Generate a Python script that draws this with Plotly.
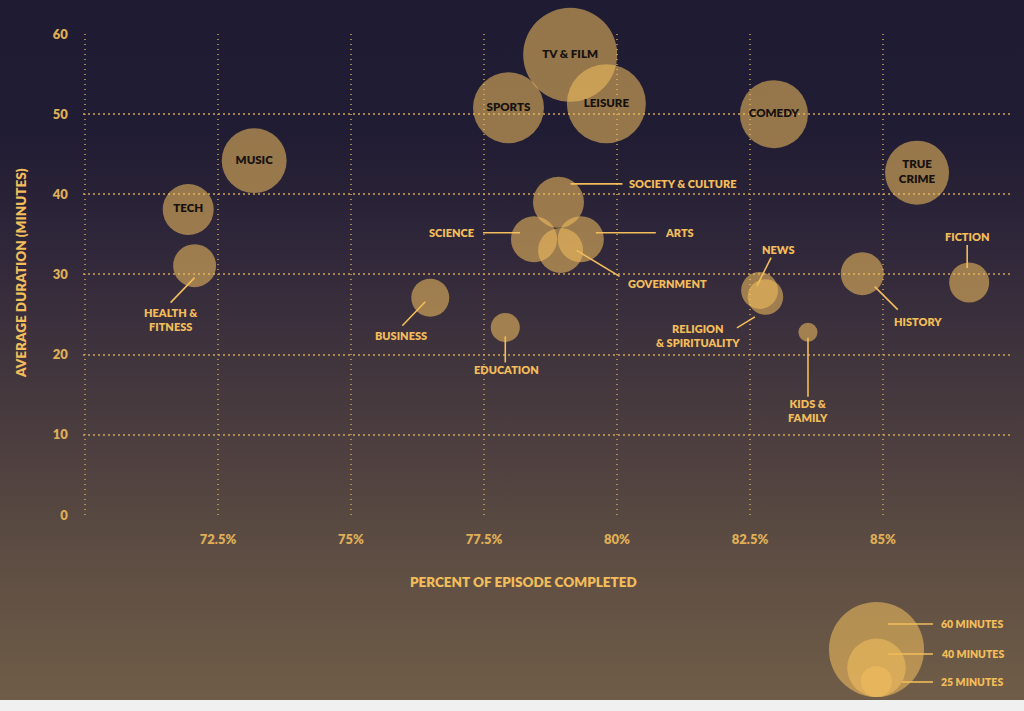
import base64
import plotly.graph_objects as go

# ---------------- data ----------------
categories = ["TV & FILM", "SPORTS", "LEISURE", "COMEDY", "TRUE CRIME", "MUSIC", "TECH",
              "HEALTH & FITNESS", "BUSINESS", "EDUCATION", "SOCIETY & CULTURE", "SCIENCE",
              "ARTS", "GOVERNMENT", "NEWS", "RELIGION & SPIRITUALITY", "KIDS & FAMILY",
              "HISTORY", "FICTION"]
pct_completed = [79.12, 77.96, 79.80, 82.95, 85.64, 73.18, 71.94,
                 72.06, 76.49, 77.90, 78.90, 78.44,
                 79.32, 78.94, 82.68, 82.79, 83.59,
                 84.61, 86.62]
avg_duration = [57.4, 50.8, 51.3, 50.0, 42.7, 44.2, 38.1,
                31.1, 27.1, 23.4, 39.0, 34.4,
                34.4, 33.0, 28.0, 27.2, 22.8,
                30.1, 29.0]
bubble_minutes = [59.4, 46.8, 51.2, 45.2, 43.0, 43.5, 35.9,
                  31.5, 28.8, 23.9, 35.9, 33.2,
                  33.2, 32.6, 28.2, 27.5, 18.4,
                  31.5, 29.9]
x_tick_vals = [70, 72.5, 75, 77.5, 80, 82.5, 85]
x_tick_text = ["", "72.5%", "75%", "77.5%", "80%", "82.5%", "85%"]
y_tick_vals = [0, 10, 20, 30, 40, 50, 60]
legend_minutes = [60, 40, 25]
legend_text = ["60 MINUTES", "40 MINUTES", "25 MINUTES"]

# labels drawn inside bubbles
inner_labels = {"TV & FILM": "TV & FILM", "SPORTS": "SPORTS", "LEISURE": "LEISURE",
                "COMEDY": "COMEDY", "TRUE CRIME": "TRUE<br>CRIME", "MUSIC": "MUSIC", "TECH": "TECH"}

# outside labels: leader line (pixel offsets, y up) and text placement
outer_labels = {
    "HEALTH & FITNESS": dict(line=(0, -12, -24, -37), txt=(-24, -54), anchor="center", text="HEALTH &<br>FITNESS"),
    "BUSINESS": dict(line=(-5, -4, -28, -28), txt=(-29, -38), anchor="center", text="BUSINESS"),
    "EDUCATION": dict(line=(0, -9, 0, -35), txt=(1, -42), anchor="center", text="EDUCATION"),
    "SOCIETY & CULTURE": dict(line=(12, 18.5, 64, 18.5), txt=(69, 18.5), anchor="left", text="SOCIETY & CULTURE"),
    "SCIENCE": dict(line=(-51, 6.5, -14, 6.5), txt=(-58, 6.5), anchor="right", text="SCIENCE"),
    "ARTS": dict(line=(15, 6.5, 75, 6.5), txt=(82, 6.5), anchor="left", text="ARTS"),
    "GOVERNMENT": dict(line=(16, 0, 59, -26), txt=(65, -33.5), anchor="left", text="GOVERNMENT"),
    "NEWS": dict(line=(11.5, 33, -2.5, 5), txt=(18.5, 41), anchor="center", text="NEWS"),
    "RELIGION & SPIRITUALITY": dict(line=(-28.5, -31, -10.5, -20), txt=(-67.5, -38.5), anchor="center",
                                    text="RELIGION<br>& SPIRITUALITY"),
    "KIDS & FAMILY": dict(line=(0, -5.5, 0, -64.5), txt=(0, -78), anchor="center", text="KIDS &<br>FAMILY"),
    "HISTORY": dict(line=(12.5, -13, 35.5, -36), txt=(55.5, -48), anchor="center", text="HISTORY"),
    "FICTION": dict(line=(-2, 37.5, -2, 14.5), txt=(-2, 46.5), anchor="center", text="FICTION"),
}

# ---------------- style ----------------
W, H_PAPER, H = 1024, 700, 711
FONT = "Lato, 'Open Sans', sans-serif"
WEIGHT = 800
GOLD = "#f2bd5a"
TICK_GOLD = "#dfae57"
BUBBLE = "rgba(242,190,95,0.8)"
GRID = "rgba(208,164,88,0.75)"


def diam(m):
    # bubble diameter scale (px) from minutes
    return 1.83 * m - 14.7


# pixel anchors of the main plot
X_RANGE = [69.97, 87.45]
Y_RANGE = [-0.02, 60.02]
PX_PER_X = 53.2      # px per 1 percentage point
PX_PER_Y = 8.017     # px per 1 minute
x0_px = 85 - (70 - X_RANGE[0]) * PX_PER_X
x1_px = 85 + (X_RANGE[1] - 70) * PX_PER_X
y0_px = 515 + (0 - Y_RANGE[0]) * PX_PER_Y
y1_px = 515 - Y_RANGE[1] * PX_PER_Y

fig = go.Figure()

# gradient background as an svg image
stops = [(0, (30, 27, 50)), (130, (32, 28, 51)), (250, (48, 39, 58)), (400, (70, 57, 62)),
         (550, (92, 76, 66)), (700, (112, 93, 72))]
stop_svg = "".join('<stop offset="%.4f" stop-color="rgb(%d,%d,%d)"/>' % ((p / H_PAPER,) + c) for p, c in stops)
svg = ('<svg xmlns="http://www.w3.org/2000/svg" width="%d" height="%d" preserveAspectRatio="none">'
       '<defs><linearGradient id="g" x1="0" y1="0" x2="0" y2="1">%s</linearGradient></defs>'
       '<rect width="100%%" height="100%%" fill="url(#g)"/></svg>') % (W, H_PAPER, stop_svg)
bg_src = "data:image/svg+xml;base64," + base64.b64encode(svg.encode()).decode()

shapes = []

# bubbles
fig.add_trace(go.Scatter(
    x=pct_completed, y=avg_duration, mode="markers+text",
    text=[inner_labels.get(c, "") for c in categories],
    textposition="middle center",
    textfont=dict(family=FONT, size=11.5, color="#17120f", weight=WEIGHT),
    marker=dict(size=[diam(m) for m in bubble_minutes], sizemode="diameter",
                color=BUBBLE, line=dict(width=0)),
    cliponaxis=False, hoverinfo="skip", showlegend=False))

annotations = []
idx = {c: i for i, c in enumerate(categories)}
for cat, spec in outer_labels.items():
    i = idx[cat]
    lx0, ly0, lx1, ly1 = spec["line"]
    shapes.append(dict(type="line", xref="x", yref="y", xsizemode="pixel", ysizemode="pixel",
                       xanchor=pct_completed[i], yanchor=avg_duration[i],
                       x0=lx0, y0=ly0, x1=lx1, y1=ly1, line=dict(color=GOLD, width=1.6)))
    tx, ty = spec["txt"]
    annotations.append(dict(x=pct_completed[i], y=avg_duration[i], xref="x", yref="y",
                            xshift=tx, yshift=ty, text=spec["text"], showarrow=False,
                            xanchor=spec["anchor"], yanchor="middle", align="center",
                            font=dict(family=FONT, size=11, color=GOLD, weight=WEIGHT)))

# size legend (own axes in pixel units)
LEG_X_DOM = (800, 1024)
LEG_Y_DOM = (590, 700)
leg_cx = 76.5
leg_bottom = 3
leg_d = [diam(m) for m in legend_minutes]
fig.add_trace(go.Scatter(
    x=[leg_cx] * len(legend_minutes), y=[leg_bottom + d / 2 for d in leg_d],
    xaxis="x2", yaxis="y2", mode="markers",
    marker=dict(size=leg_d, sizemode="diameter", color=BUBBLE, line=dict(width=0)),
    cliponaxis=False, hoverinfo="skip", showlegend=False))
leg_rows = [(88, 76), (88, 46), (102, 18)]
for (lx, ly), t in zip(leg_rows, legend_text):
    shapes.append(dict(type="line", xref="x2", yref="y2", x0=lx, x1=133, y0=ly, y1=ly,
                       line=dict(color=GOLD, width=1.6)))
    annotations.append(dict(x=139, y=ly, xref="x2", yref="y2", text=t, showarrow=False,
                            xanchor="left", yanchor="middle",
                            font=dict(family=FONT, size=10.5, color=GOLD, weight=WEIGHT)))

# axis titles
annotations.append(dict(x=523 / W, y=(H_PAPER - 582) / H_PAPER, xref="paper", yref="paper",
                        text="PERCENT OF EPISODE COMPLETED", showarrow=False,
                        xanchor="center", yanchor="middle",
                        font=dict(family=FONT, size=13.5, color=GOLD, weight=WEIGHT)))
annotations.append(dict(x=21 / W, y=(H_PAPER - 273) / H_PAPER, xref="paper", yref="paper",
                        text="AVERAGE DURATION (MINUTES)", showarrow=False, textangle=-90,
                        xanchor="center", yanchor="middle",
                        font=dict(family=FONT, size=13.5, color=GOLD, weight=WEIGHT)))

axis_common = dict(showline=False, zeroline=False, showgrid=True, gridcolor=GRID, gridwidth=1.6,
                   griddash="1.6px,3.4px", ticks="outside", ticklen=12, tickcolor="rgba(0,0,0,0)",
                   tickfont=dict(family=FONT, size=13, color=TICK_GOLD, weight=WEIGHT),
                   fixedrange=True, automargin=False)

fig.update_layout(
    width=W, height=H,
    margin=dict(l=0, r=0, t=0, b=H - H_PAPER, pad=0, autoexpand=False),
    paper_bgcolor="#f0f0f0", plot_bgcolor="rgba(0,0,0,0)",
    showlegend=False, hovermode=False,
    images=[dict(source=bg_src, xref="paper", yref="paper", x=0, y=1, sizex=1, sizey=1,
                 xanchor="left", yanchor="top", sizing="stretch", layer="below")],
    xaxis=dict(range=X_RANGE, domain=[x0_px / W, x1_px / W], tickvals=x_tick_vals,
               ticktext=x_tick_text, **axis_common),
    yaxis=dict(range=Y_RANGE, domain=[(H_PAPER - y0_px) / H_PAPER, (H_PAPER - y1_px) / H_PAPER],
               tickvals=y_tick_vals, **axis_common),
    xaxis2=dict(range=[0, LEG_X_DOM[1] - LEG_X_DOM[0]], domain=[LEG_X_DOM[0] / W, LEG_X_DOM[1] / W],
                visible=False, anchor="y2", fixedrange=True, automargin=False),
    yaxis2=dict(range=[0, LEG_Y_DOM[1] - LEG_Y_DOM[0]],
                domain=[(H_PAPER - LEG_Y_DOM[1]) / H_PAPER, (H_PAPER - LEG_Y_DOM[0]) / H_PAPER],
                visible=False, anchor="x2", fixedrange=True, automargin=False),
    shapes=shapes, annotations=annotations,
)

fig.write_html("out.html", config={"displayModeBar": False},
               post_script="document.body.style.margin='0';document.body.style.overflow='hidden';")
